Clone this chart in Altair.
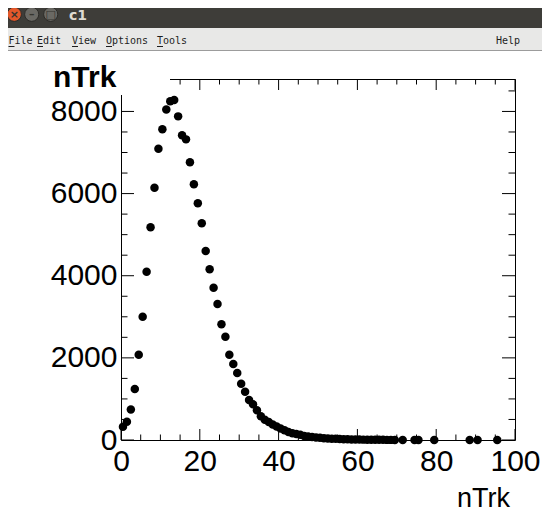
import altair as alt
import pandas as pd

# ---- data ----
ntrk = [0.5, 1.5, 2.5, 3.5, 4.5, 5.5, 6.5, 7.5, 8.5, 9.5,
        10.5, 11.5, 12.5, 13.5, 14.5, 15.5, 16.5, 17.5, 18.5, 19.5,
        20.5, 21.5, 22.5, 23.5, 24.5, 25.5, 26.5, 27.5, 28.5, 29.5,
        30.5, 31.5, 32.5, 33.5, 34.5, 35.5, 36.5, 37.5, 38.5, 39.5,
        40.5, 41.5, 42.5, 43.5, 44.5, 45.5, 46.5, 47.5, 48.5, 49.5,
        50.5, 51.5, 52.5, 53.5, 54.5, 55.5, 56.5, 57.5, 58.5, 59.5,
        60.5, 61.5, 62.5, 63.5, 64.5, 65.5, 66.5, 67.5, 68.5, 69.5,
        71.5, 74.5, 75.5, 79.5, 88.5, 90.5, 95.5]
counts = [320, 445, 740, 1240, 2075, 3000, 4095, 5180, 6140, 7090,
          7565, 8050, 8250, 8280, 7880, 7420, 7320, 6765, 6230, 5765,
          5280, 4600, 4160, 3705, 3310, 2820, 2515, 2075, 1850, 1630,
          1370, 1175, 975, 870, 725, 580, 495, 440, 375, 330,
          280, 235, 195, 165, 145, 125, 100, 88, 72, 62,
          52, 45, 38, 32, 28, 24, 20, 17, 15, 13,
          11, 9, 8, 7, 6, 5, 4, 3, 3, 2,
          1, 1, 1, 1, 1, 1, 1]

x_major = [0, 20, 40, 60, 80, 100]
x_minor = [5, 10, 15, 25, 30, 35, 45, 50, 55, 65, 70, 75, 85, 90, 95]
y_major = [0, 2000, 4000, 6000, 8000]
y_minor = [500, 1000, 1500, 2500, 3000, 3500, 4500, 5000, 5500,
           6500, 7000, 7500, 8500]

menu_items = ["File", "Edit", "View", "Options", "Tools"]
menu_x_page = [8.5, 37, 72, 106, 157]

# ---- layout ----
W, H = 394, 361
OX, OY = 121, 79          # page position of plot origin
def px(x): return x - OX
def py(y): return y - OY

FONT = "Liberation Sans"
xs = alt.Scale(domain=[0, 100], nice=False, zero=False)
ys = alt.Scale(domain=[0, 8790], nice=False, zero=False)

df = pd.DataFrame({"nTrk": ntrk, "count": counts})
one = pd.DataFrame({"d": [0]})

points = alt.Chart(df).mark_circle(size=72, color="black", opacity=1).encode(
    x=alt.X("nTrk:Q", scale=xs, title=None,
            axis=alt.Axis(values=x_major, ticks=False, domain=False, grid=False,
                          labelFontSize=30, labelFont=FONT, labelColor="black",
                          labelPadding=6, labelFlush=False, labelOverlap=False,
                          format="d")),
    y=alt.Y("count:Q", scale=ys, title=None,
            axis=alt.Axis(values=y_major, ticks=False, domain=False, grid=False,
                          labelFontSize=30, labelFont=FONT, labelColor="black",
                          labelPadding=4, labelFlush=False, labelOverlap=False,
                          format="d")),
)

def xticks(vals, length, bottom):
    c = alt.Chart(pd.DataFrame({"v": vals})).mark_rule(color="black", strokeWidth=1)
    if bottom:
        return c.encode(x=alt.X("v:Q", scale=xs),
                        y=alt.value(H), y2=alt.value(H - length))
    return c.encode(x=alt.X("v:Q", scale=xs),
                    y=alt.value(0), y2=alt.value(length))

def yticks(vals, length, left):
    c = alt.Chart(pd.DataFrame({"v": vals})).mark_rule(color="black", strokeWidth=1)
    if left:
        return c.encode(y=alt.Y("v:Q", scale=ys),
                        x=alt.value(0), x2=alt.value(length))
    return c.encode(y=alt.Y("v:Q", scale=ys),
                    x=alt.value(W), x2=alt.value(W - length))

ticks = [xticks(x_major, 11, True), xticks(x_minor, 5.5, True),
         xticks(x_major, 11, False), xticks(x_minor, 5.5, False),
         yticks(y_major, 13, True), yticks(y_minor, 6.5, True),
         yticks(y_major, 13, False), yticks(y_minor, 6.5, False)]

def rect(x1, x2, y1, y2, color):
    return alt.Chart(one).mark_rect(color=color).encode(
        x=alt.value(x1), x2=alt.value(x2), y=alt.value(y1), y2=alt.value(y2))

def text(t, x, y, size, color="black", font=FONT, weight="normal", align="left",
         baseline="alphabetic"):
    return alt.Chart(one).mark_text(text=t, fontSize=size, color=color, font=font,
                                    fontWeight=weight, align=align,
                                    baseline=baseline).encode(
        x=alt.value(x), y=alt.value(y))

# title box over the frame corner
title_box = rect(px(30), px(170), py(52), py(95), "white")
y_title = text("nTrk", px(53), py(87), 30, weight="bold")
x_title = text("nTrk", px(510), py(507), 27, align="right")

# window chrome
chrome = [
    rect(px(0), px(560), py(0), py(28), "#3e3d39"),
    rect(px(0), px(560), py(28), py(50), "#e8e8e7"),
    alt.Chart(one).mark_rule(color="#9c9c9c", strokeWidth=1).encode(
        x=alt.value(px(0)), x2=alt.value(px(560)),
        y=alt.value(py(50.5))),
]
btn_x = [14.3, 31.7, 50.7]
btn_col = ["#e4582a", "#6a6964", "#6a6964"]
btn_sym = ["×", "–", "□"]
for bx, bc, bs in zip(btn_x, btn_col, btn_sym):
    chrome.append(alt.Chart(one).mark_circle(size=200, color=bc, opacity=1,
                                              stroke="#2c2b28", strokeWidth=1).encode(
        x=alt.value(px(bx)), y=alt.value(py(14.3))))
    chrome.append(text(bs, px(bx), py(14.5), 11, color="#35342f",
                       font="DejaVu Sans", weight="bold", align="center",
                       baseline="middle"))
chrome.append(text("c1", px(69), py(19.5), 14, color="#dfdbd2",
                   font="DejaVu Sans", weight="bold"))
for item, mx in zip(menu_items, menu_x_page):
    chrome.append(text(item, px(mx), py(44), 10, color="#1e1e1e",
                       font="DejaVu Sans Mono"))
    chrome.append(alt.Chart(one).mark_rule(color="#1e1e1e", strokeWidth=1).encode(
        x=alt.value(px(mx)), x2=alt.value(px(mx + 6)), y=alt.value(py(46.5))))
chrome.append(text("Help", px(496), py(44), 10, color="#1e1e1e",
                   font="DejaVu Sans Mono"))

chart = alt.layer(
    points, *ticks, title_box, y_title, x_title, *chrome
).properties(
    width=W, height=H,
    padding={"left": 113, "top": 71, "right": 27, "bottom": 76},
    autosize=alt.AutoSizeParams(type="none"),
    background="white",
).configure_view(stroke="black", strokeWidth=1)

chart.save("out.html", embed_options={"renderer": "svg", "actions": False})
